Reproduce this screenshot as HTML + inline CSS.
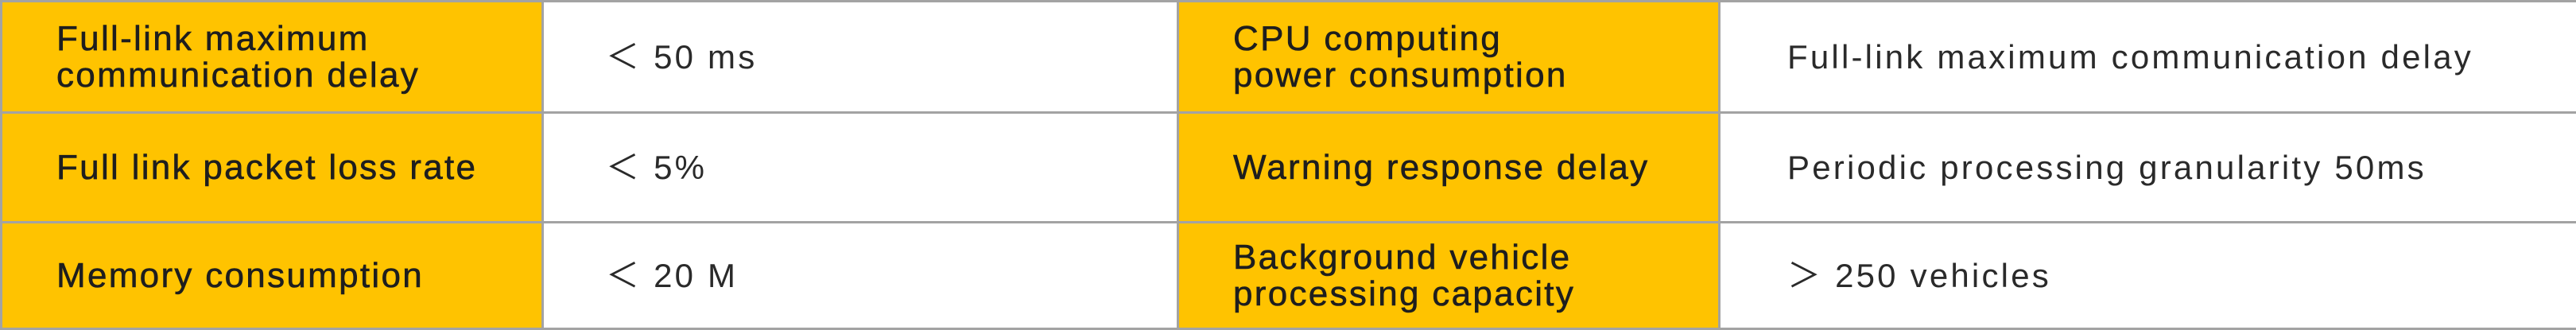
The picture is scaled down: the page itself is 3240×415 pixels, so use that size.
<!DOCTYPE html>
<html><head><meta charset="utf-8"><style>
html,body{margin:0;padding:0;background:#fff;}
body{width:3240px;height:412px;overflow:hidden;}
table{position:absolute;left:0;top:0;width:3240px;height:412px;border-collapse:collapse;table-layout:fixed;}
td{border:3px solid #a3a3a3;vertical-align:middle;padding:0;font-family:"Liberation Sans","Noto Sans CJK SC",sans-serif;color:#1e1e1e;white-space:nowrap;}
td.k{background:#FFC300;font-size:44px;line-height:46px;padding-left:68px;letter-spacing:2.3px;-webkit-text-stroke:0.6px #1e1e1e;}
td.v{background:#fff;font-size:42px;line-height:45px;letter-spacing:3.2px;color:#2a2a2a;}
td.v1{padding-left:78px;}
td.v2{padding-left:84px;}
</style></head><body>
<table>
<colgroup><col style="width:681px"><col style="width:799px"><col style="width:681px"><col style="width:1079px"></colgroup>
<tr style="height:140px">
<td class="k">Full-link maximum<br>communication delay</td>
<td class="v v1">＜ 50 ms</td>
<td class="k">CPU computing<br>power consumption</td>
<td class="v v2">Full-link maximum communication delay</td>
</tr>
<tr style="height:138px">
<td class="k">Full link packet loss rate</td>
<td class="v v1">＜ 5%</td>
<td class="k">Warning response delay</td>
<td class="v v2">Periodic processing granularity 50ms</td>
</tr>
<tr style="height:134px">
<td class="k">Memory consumption</td>
<td class="v v1">＜ 20 M</td>
<td class="k">Background vehicle<br>processing capacity</td>
<td class="v v2">＞ 250 vehicles</td>
</tr>
</table>
</body></html>
